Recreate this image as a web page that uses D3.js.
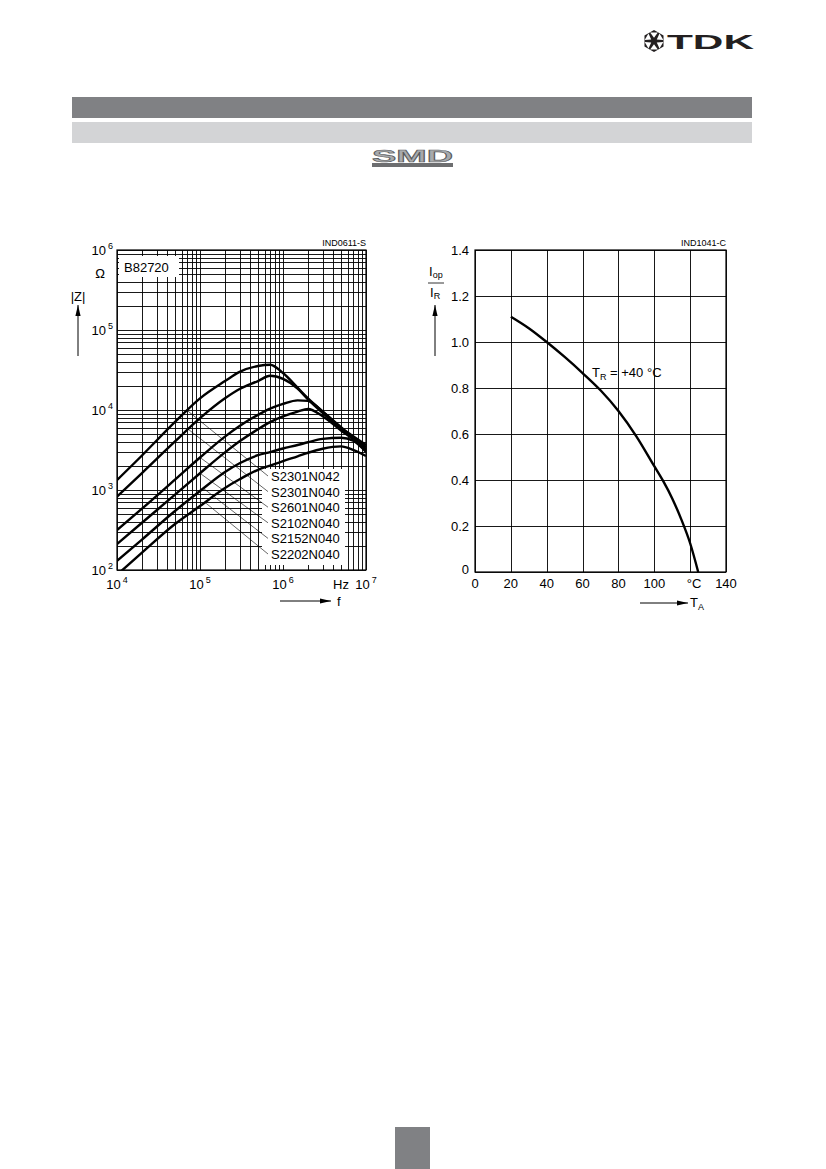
<!DOCTYPE html>
<html>
<head>
<meta charset="utf-8">
<script src="https://cdn.jsdelivr.net/npm/d3@7"></script>
<style>
  body { margin: 0; background: #fff; }
  text { font-family: "Liberation Sans", Arial, Helvetica, sans-serif; fill: #000; }
  .grid line { stroke: #000; stroke-width: 0.9; shape-rendering: crispEdges; }
  .grid path { display: none; }
</style>
</head>
<body>
<svg id="page" width="826" height="1169"></svg>
<script>
// ---- impedance chart data (|Z| in ohm vs f in Hz) ----
var freqs      = [1e4, 2e4, 5e4, 1e5, 2e5, 3e5, 5e5, 7e5, 1e6, 1.5e6, 2e6, 3e6, 5e6, 7e6, 1e7];
var zS2301N042 = [1330, 2700, 7100, 14000, 23000, 30000, 35500, 36800, 29000, 19000, 14000, 9600, 6000, 4700, 3650];
var zS2301N040 = [825, 1630, 4050, 7900, 14000, 18300, 23000, 26800, 24500, 18500, 13600, 9200, 5800, 4450, 3450];
var zS2601N040 = [316, 585, 1350, 2550, 4650, 6300, 8700, 10400, 11900, 13200, 13000, 9550, 6100, 4450, 3250];
var zS2102N040 = [211, 390, 875, 1620, 2950, 4060, 5750, 7050, 8300, 9550, 10300, 8350, 5550, 4300, 3070];
var zS2152N040 = [130, 240, 546, 970, 1680, 2160, 2720, 2980, 3300, 3650, 3950, 4350, 4500, 4150, 2990];
var zS2202N040 = [87, 165, 376, 630, 1060, 1360, 1790, 2020, 2300, 2640, 2920, 3280, 3510, 3180, 2660];
var seriesNames = ["S2301N042", "S2301N040", "S2601N040", "S2102N040", "S2152N040", "S2202N040"];
var seriesZ = [zS2301N042, zS2301N040, zS2601N040, zS2102N040, zS2152N040, zS2202N040];
var leaderFreq = [7.0e4, 7.2e4, 1.0e5, 1.0e5, 1.1e5, 1.15e5];
var zDecades = [1e2, 1e3, 1e4, 1e5, 1e6];
var fDecades = [1e4, 1e5, 1e6, 1e7];

// ---- derating chart data (Iop/IR vs TA in degC) ----
var tempC = [20, 30, 40, 50, 60, 70, 80, 90, 100, 105, 110, 115, 120, 124.5];
var ratio = [1.11, 1.06, 1.0, 0.935, 0.865, 0.79, 0.70, 0.59, 0.46, 0.395, 0.32, 0.23, 0.125, 0];
var tTicks = [0, 20, 40, 60, 80, 100, 120, 140];
var tTickLabels = ["0", "20", "40", "60", "80", "100", "\u00b0C", "140"];
var rTicks = [0, 0.2, 0.4, 0.6, 0.8, 1.0, 1.2, 1.4];
var rTickLabels = ["0", "0.2", "0.4", "0.6", "0.8", "1.0", "1.2", "1.4"];

var svg = d3.select("#page");

// ---------------- page header ----------------
svg.append("rect").attr("x", 72).attr("y", 97).attr("width", 680).attr("height", 21).attr("fill", "#808184");
svg.append("rect").attr("x", 72).attr("y", 122).attr("width", 680).attr("height", 21).attr("fill", "#d3d4d6");

// TDK logo
var logo = svg.append("g").attr("transform", "translate(654,41)");
var hex = d3.range(6).map(function(k) {
  var a = Math.PI / 6 + k * Math.PI / 3;
  return [11 * Math.cos(a), 11 * Math.sin(a)];
});
logo.append("polygon").attr("points", hex.join(" ")).attr("fill", "#231f20");
d3.range(6).forEach(function(k) {
  var a = -Math.PI / 2 + k * Math.PI / 3, w = 0.42;
  var p = [[3.2 * Math.cos(a), 3.2 * Math.sin(a)],
           [9.4 * Math.cos(a - w), 9.4 * Math.sin(a - w)],
           [9.4 * Math.cos(a + w), 9.4 * Math.sin(a + w)]];
  logo.append("polygon").attr("points", p.join(" ")).attr("fill", "#fff");
});
svg.append("text").attr("x", 667).attr("y", 49)
  .attr("font-size", 21).attr("font-weight", "bold")
  .attr("textLength", 87).attr("lengthAdjust", "spacingAndGlyphs")
  .style("fill", "#231f20").text("TDK");

// SMD logo
svg.append("rect").attr("x", 372).attr("y", 163).attr("width", 81).attr("height", 4).attr("fill", "#6d6e70");
svg.append("text").attr("x", 372).attr("y", 162)
  .attr("font-size", 17).attr("font-weight", "bold")
  .attr("textLength", 81).attr("lengthAdjust", "spacingAndGlyphs")
  .style("fill", "#a7a9ac").style("stroke", "#58595b").style("stroke-width", 0.6)
  .text("SMD");

// page number box
svg.append("rect").attr("x", 395).attr("y", 1127).attr("width", 35).attr("height", 42).attr("fill", "#808184");

// ---------------- left chart: |Z| vs f ----------------
var L = { left: 117, right: 366, top: 250, bottom: 570 };
var xZ = d3.scaleLog().domain([1e4, 1e7]).range([L.left, L.right]);
var yZ = d3.scaleLog().domain([1e2, 1e6]).range([L.bottom, L.top]);

var gL = svg.append("g");
gL.append("g").attr("class", "grid")
  .attr("transform", "translate(0," + L.bottom + ")")
  .call(d3.axisBottom(xZ).tickValues(xZ.ticks()).tickSize(-(L.bottom - L.top)).tickFormat(""));
gL.append("g").attr("class", "grid")
  .attr("transform", "translate(" + L.left + ",0)")
  .call(d3.axisLeft(yZ).tickValues(yZ.ticks()).tickSize(-(L.right - L.left)).tickFormat(""));
gL.append("rect").attr("x", L.left).attr("y", L.top)
  .attr("width", L.right - L.left).attr("height", L.bottom - L.top)
  .attr("fill", "none").attr("stroke", "#000").attr("stroke-width", 1.2);

// white boxes covering the grid behind the texts
gL.append("rect").attr("x", 119).attr("y", 256).attr("width", 60).attr("height", 21).attr("fill", "#fff");
gL.append("text").attr("x", 124).attr("y", 272).attr("font-size", 13).text("B82720");
gL.append("rect").attr("x", 262).attr("y", 469).attr("width", 83).attr("height", 96).attr("fill", "#fff");

// decade labels
fDecades.forEach(function(v) {
  var t = gL.append("text").attr("x", xZ(v)).attr("y", 589)
    .attr("text-anchor", "middle").attr("font-size", 13);
  t.append("tspan").text("10");
  t.append("tspan").attr("dx", 2).attr("dy", -6).attr("font-size", 9).text(Math.log10(v));
});
gL.append("text").attr("x", xZ(5e6)).attr("y", 589).attr("text-anchor", "middle").attr("font-size", 13).text("Hz");
zDecades.forEach(function(v) {
  var t = gL.append("text").attr("x", 113).attr("y", yZ(v) + 5)
    .attr("text-anchor", "end").attr("font-size", 13);
  t.append("tspan").text("10");
  t.append("tspan").attr("dx", 2).attr("dy", -6).attr("font-size", 9).text(Math.log10(v));
});
gL.append("text").attr("x", L.right).attr("y", 246).attr("text-anchor", "end").attr("font-size", 9).text("IND0611-S");
gL.append("text").attr("x", 100).attr("y", 278).attr("text-anchor", "middle").attr("font-size", 13).text("\u03a9");
gL.append("text").attr("x", 78).attr("y", 301).attr("text-anchor", "middle").attr("font-size", 13).text("|Z|");

// axis arrows
function arrow(g, x1, y1, x2, y2) {
  g.append("line").attr("x1", x1).attr("y1", y1).attr("x2", x2).attr("y2", y2)
    .attr("stroke", "#000").attr("stroke-width", 1);
  var a = Math.atan2(y2 - y1, x2 - x1), len = 11, w = 2.6;
  var p = [[x2, y2],
           [x2 - len * Math.cos(a) + w * Math.sin(a), y2 - len * Math.sin(a) - w * Math.cos(a)],
           [x2 - len * Math.cos(a) - w * Math.sin(a), y2 - len * Math.sin(a) + w * Math.cos(a)]];
  g.append("polygon").attr("points", p.join(" ")).attr("fill", "#000");
}
arrow(gL, 78, 356, 78, 305);
arrow(gL, 280, 601, 331, 601);
gL.append("text").attr("x", 337).attr("y", 606).attr("font-size", 13).text("f");

// curves
svg.append("clipPath").attr("id", "clipL").append("rect")
  .attr("x", L.left).attr("y", L.top).attr("width", L.right - L.left).attr("height", L.bottom - L.top);
var zLine = d3.line().x(function(d) { return xZ(d[0]); }).y(function(d) { return yZ(d[1]); })
  .curve(d3.curveMonotoneX);
function zAt(arr, f) {
  var lf = Math.log10(f);
  for (var i = 0; i < freqs.length - 1; i++) {
    var a = Math.log10(freqs[i]), b = Math.log10(freqs[i + 1]);
    if (lf >= a && lf <= b) {
      var t = (lf - a) / (b - a);
      return Math.pow(10, Math.log10(arr[i]) * (1 - t) + Math.log10(arr[i + 1]) * t);
    }
  }
  return arr[arr.length - 1];
}
var gCurves = gL.append("g").attr("clip-path", "url(#clipL)");
seriesZ.forEach(function(arr) {
  gCurves.append("path").datum(freqs.map(function(f, i) { return [f, arr[i]]; }))
    .attr("d", zLine).attr("fill", "none").attr("stroke", "#000").attr("stroke-width", 2.4)
    .attr("stroke-linejoin", "round");
});

// legend labels with leader lines
seriesNames.forEach(function(name, i) {
  var ty = 476 + i * 15.6;
  var f = leaderFreq[i];
  gL.append("line").attr("x1", xZ(f)).attr("y1", yZ(zAt(seriesZ[i], f)))
    .attr("x2", 268).attr("y2", ty).attr("stroke", "#000").attr("stroke-width", 0.6);
  gL.append("text").attr("x", 271).attr("y", ty + 5).attr("font-size", 13).text(name);
});

// ---------------- right chart: Iop/IR vs TA ----------------
var R = { left: 475, right: 726, top: 250, bottom: 572 };
var xT = d3.scaleLinear().domain([0, 140]).range([R.left, R.right]);
var yR = d3.scaleLinear().domain([0, 1.4]).range([R.bottom, R.top]);

var gR = svg.append("g");
gR.append("g").attr("class", "grid")
  .attr("transform", "translate(0," + R.bottom + ")")
  .call(d3.axisBottom(xT).tickValues(tTicks).tickSize(-(R.bottom - R.top)).tickFormat(""));
gR.append("g").attr("class", "grid")
  .attr("transform", "translate(" + R.left + ",0)")
  .call(d3.axisLeft(yR).tickValues(rTicks).tickSize(-(R.right - R.left)).tickFormat(""));
gR.append("rect").attr("x", R.left).attr("y", R.top)
  .attr("width", R.right - R.left).attr("height", R.bottom - R.top)
  .attr("fill", "none").attr("stroke", "#000").attr("stroke-width", 1.2);

tTicks.forEach(function(v, i) {
  gR.append("text").attr("x", xT(v) + (i === 6 ? 4 : 0)).attr("y", 588)
    .attr("text-anchor", "middle").attr("font-size", 13).text(tTickLabels[i]);
});
rTicks.forEach(function(v, i) {
  gR.append("text").attr("x", 469).attr("y", yR(v) + (i === 0 ? 2 : 5))
    .attr("text-anchor", "end").attr("font-size", 13).text(rTickLabels[i]);
});
gR.append("text").attr("x", R.right).attr("y", 246).attr("text-anchor", "end").attr("font-size", 9).text("IND1041-C");

var t1 = gR.append("text").attr("x", 429).attr("y", 276).attr("font-size", 13);
t1.append("tspan").text("I");
t1.append("tspan").attr("dy", 2).attr("font-size", 9).text("op");
gR.append("line").attr("x1", 428).attr("x2", 444).attr("y1", 283).attr("y2", 283).attr("stroke", "#000").attr("stroke-width", 0.8);
var t2 = gR.append("text").attr("x", 430).attr("y", 297).attr("font-size", 13);
t2.append("tspan").text("I");
t2.append("tspan").attr("dy", 2).attr("font-size", 9).text("R");
arrow(gR, 435, 356, 435, 305);
arrow(gR, 640, 603, 688, 603);
var t3 = gR.append("text").attr("x", 690).attr("y", 607).attr("font-size", 13);
t3.append("tspan").text("T");
t3.append("tspan").attr("dy", 3).attr("font-size", 9).text("A");

var rLine = d3.line().x(function(d) { return xT(d[0]); }).y(function(d) { return yR(d[1]); })
  .curve(d3.curveMonotoneX);
gR.append("path").datum(tempC.map(function(t, i) { return [t, ratio[i]]; }))
  .attr("d", rLine).attr("fill", "none").attr("stroke", "#000").attr("stroke-width", 2.4);

var t4 = gR.append("text").attr("x", 592).attr("y", 377).attr("font-size", 13);
t4.append("tspan").text("T");
t4.append("tspan").attr("dy", 3).attr("font-size", 9).text("R");
t4.append("tspan").attr("dy", -3).text(" = +40 \u00b0C");
</script>
</body>
</html>
